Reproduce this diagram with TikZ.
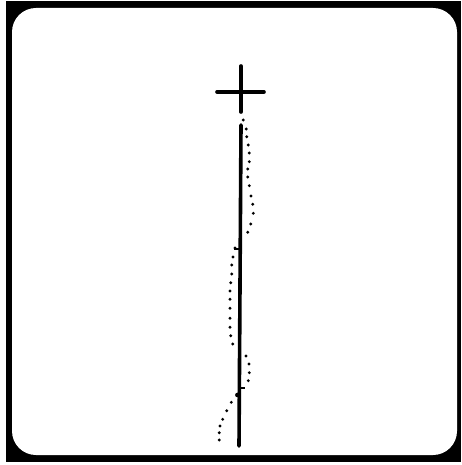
\documentclass[tikz,border=0pt]{standalone}
\begin{document}
\begin{tikzpicture}[x={(1pt,0)},y={(0,-1pt)},
  stroke/.style={line width=3.6pt,line cap=round},
  tick/.style={line width=1.8pt},
  dot/.style={fill=black}]
\useasboundingbox (0,0) rectangle (461,465);
\fill[white] (0,0) rectangle (461,465);
% frame
\fill[black] (6,1) rectangle (461,462);
\fill[white,rounded corners=24pt] (12,8) rectangle (457,455);
% plus sign
\draw[stroke] (217,92) -- (264,92);
\draw[stroke] (241,66) -- (241,112);
% vertical line
\draw[stroke] (241,125) -- (239,446);
% ticks
\draw[tick] (234,249) -- (240,249);
\draw[tick] (240,388) -- (245,388);
\fill (237.5,395) circle (2.4);
% dotted curve
\foreach \px/\py in {243.3/120, 246.3/129, 246.7/136.7, 248.3/145, 249.3/153, 249.3/161.7,
  247.7/169, 247.7/177, 249.3/185.7, 251/196, 252.7/204.3, 253.3/213.3, 250.7/224,
  247.7/232.3, 235/248, 233/257, 231.7/265, 231.7/274, 230.7/282.7, 230/291,
  230/299.3, 230/308.3, 230/318.3, 230/327.3, 230.7/335.7, 232.7/344,
  246/356, 249/364, 249.3/372.7, 248.3/380.7, 231.3/402.3, 226.7/410.7,
  222.7/419.3, 220/426, 219.3/432.7, 219.3/440}
  \fill[dot] (\px,\py) circle (1.6);
\end{tikzpicture}
\end{document}
